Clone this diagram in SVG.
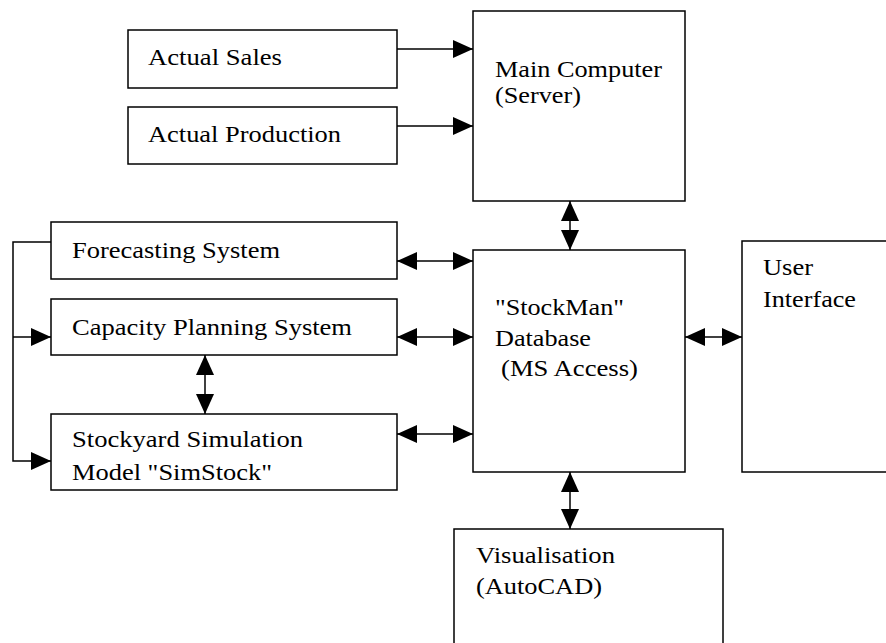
<svg xmlns="http://www.w3.org/2000/svg" width="886" height="643" viewBox="0 0 886 643">
<style>
.box{fill:#fff;stroke:#000;stroke-width:1.5}
.lbl{font-family:"Liberation Serif","Times New Roman",serif;font-size:24px;fill:#000}
.con{fill:none;stroke:#000;stroke-width:1.5}
.one{marker-end:url(#ah)}
.two{marker-start:url(#ah);marker-end:url(#ah)}
</style>
<defs>
<marker id="ah" markerUnits="userSpaceOnUse" markerWidth="20" markerHeight="20" refX="20" refY="9" orient="auto-start-reverse" viewBox="0 0 20 18">
<path d="M0,0 L20,9 L0,18 z" fill="#000"/>
</marker>
</defs>
<rect x="0" y="0" width="886" height="643" fill="#fff"/>
<g id="actual-sales"><rect class="box" x="128" y="30" width="269" height="58"/><text class="lbl" x="148" y="65" textLength="134" lengthAdjust="spacingAndGlyphs">Actual Sales</text></g>
<g id="actual-production"><rect class="box" x="128" y="107" width="269" height="57"/><text class="lbl" x="148" y="142" textLength="193" lengthAdjust="spacingAndGlyphs">Actual Production</text></g>
<g id="main-computer"><rect class="box" x="473" y="11" width="212" height="190"/><text class="lbl" x="495" y="77" textLength="167" lengthAdjust="spacingAndGlyphs">Main Computer</text><text class="lbl" x="495" y="103" textLength="86" lengthAdjust="spacingAndGlyphs">(Server)</text></g>
<g id="forecasting"><rect class="box" x="51" y="222" width="346" height="57"/><text class="lbl" x="72" y="258" textLength="208" lengthAdjust="spacingAndGlyphs">Forecasting System</text></g>
<g id="capacity"><rect class="box" x="51" y="299" width="346" height="56"/><text class="lbl" x="72" y="335" textLength="280" lengthAdjust="spacingAndGlyphs">Capacity Planning System</text></g>
<g id="stockyard"><rect class="box" x="51" y="414" width="346" height="76"/><text class="lbl" x="72" y="447" textLength="231" lengthAdjust="spacingAndGlyphs">Stockyard Simulation</text><text class="lbl" x="72" y="480" textLength="200" lengthAdjust="spacingAndGlyphs">Model "SimStock"</text></g>
<g id="database"><rect class="box" x="473" y="250" width="212" height="222"/><text class="lbl" x="495" y="315" textLength="129" lengthAdjust="spacingAndGlyphs">"StockMan"</text><text class="lbl" x="495" y="346" textLength="96" lengthAdjust="spacingAndGlyphs">Database</text><text class="lbl" x="501" y="376" textLength="137" lengthAdjust="spacingAndGlyphs">(MS Access)</text></g>
<g id="user-interface"><rect class="box" x="742" y="241" width="160" height="231"/><text class="lbl" x="763" y="275" textLength="50" lengthAdjust="spacingAndGlyphs">User</text><text class="lbl" x="763" y="307" textLength="93" lengthAdjust="spacingAndGlyphs">Interface</text></g>
<g id="visualisation"><rect class="box" x="454" y="529" width="269" height="130"/><text class="lbl" x="476" y="563" textLength="139" lengthAdjust="spacingAndGlyphs">Visualisation</text><text class="lbl" x="476" y="594" textLength="126" lengthAdjust="spacingAndGlyphs">(AutoCAD)</text></g>
<g id="connectors">
<line class="con one" x1="397" y1="49" x2="473" y2="49"/>
<line class="con one" x1="397" y1="126" x2="473" y2="126"/>
<line class="con two" x1="570" y1="201" x2="570" y2="250"/>
<line class="con two" x1="397" y1="261" x2="473" y2="261"/>
<line class="con two" x1="397" y1="337" x2="473" y2="337"/>
<line class="con two" x1="397" y1="434" x2="473" y2="434"/>
<line class="con two" x1="685" y1="337" x2="742" y2="337"/>
<line class="con two" x1="570" y1="472" x2="570" y2="529"/>
<line class="con two" x1="205" y1="355" x2="205" y2="414"/>
<polyline class="con one" points="51,242 13,242 13,461 51,461"/>
<line class="con one" x1="13" y1="337" x2="51" y2="337"/>
</g>
</svg>
